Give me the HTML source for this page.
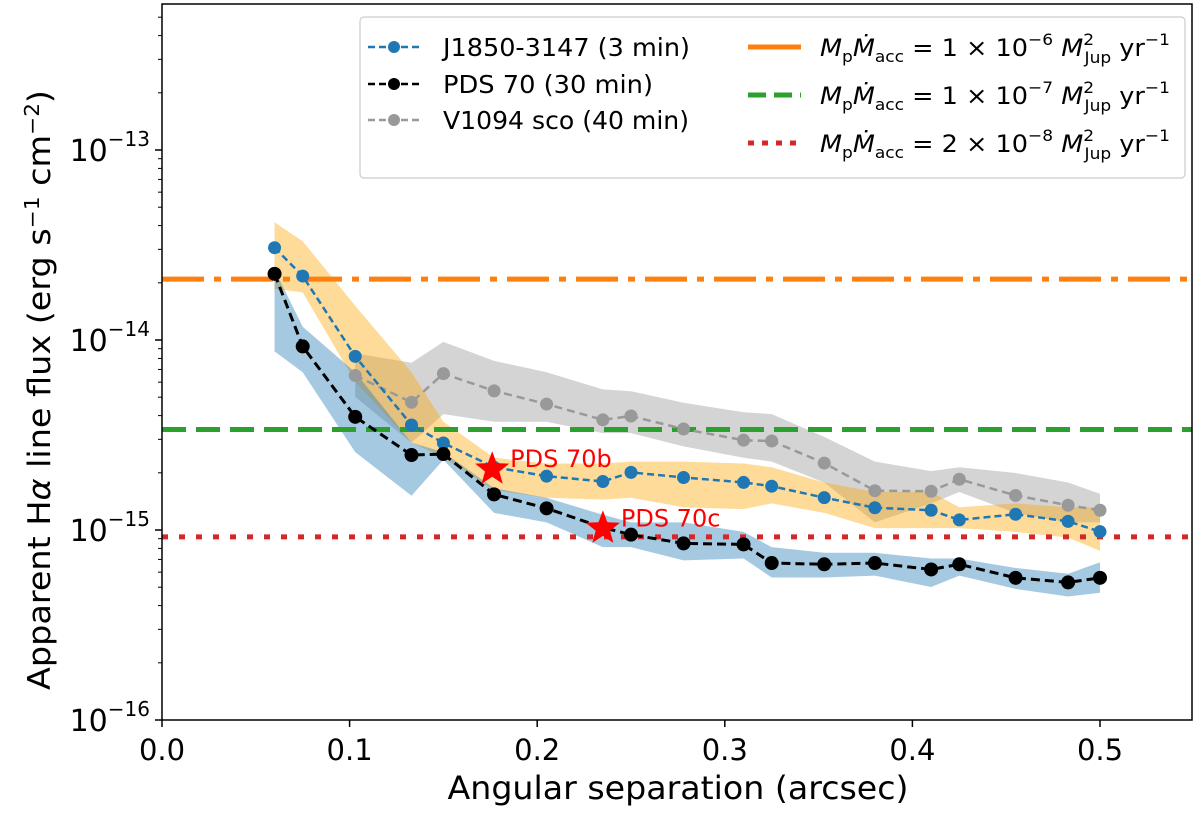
<!DOCTYPE html>
<html><head><meta charset="utf-8"><style>
html,body{margin:0;padding:0;background:#fff;}
svg{display:block;font-family:"DejaVu Sans","Liberation Sans",sans-serif;}
</style></head><body>
<svg id="chart" width="1200" height="814" viewBox="0 0 1200 814" xmlns="http://www.w3.org/2000/svg">
<g id="bands"></g>
<g id="hlines"></g>
<g id="series"></g>
<g id="axes"></g>
<g id="legend"></g>
</svg>
<script>
// ---- data ----
const xJ = [0.06,0.075,0.103,0.133,0.15,0.177,0.205,0.235,0.25,0.278,0.31,0.325,0.353,0.38,0.41,0.425,0.455,0.483,0.5];
const fluxJ = [3.06e-14,2.17e-14,8.2e-15,3.57e-15,2.87e-15,2.14e-15,1.92e-15,1.80e-15,2.01e-15,1.89e-15,1.78e-15,1.70e-15,1.48e-15,1.31e-15,1.27e-15,1.13e-15,1.21e-15,1.11e-15,9.8e-16];
const fluxP = [2.23e-14,9.25e-15,3.94e-15,2.48e-15,2.51e-15,1.54e-15,1.30e-15,1.03e-15,9.45e-16,8.5e-16,8.4e-16,6.7e-16,6.6e-16,6.7e-16,6.2e-16,6.6e-16,5.6e-16,5.3e-16,5.6e-16];
const xV = [0.103,0.133,0.15,0.177,0.205,0.235,0.25,0.278,0.31,0.325,0.353,0.38,0.41,0.425,0.455,0.483,0.5];
const fluxV = [6.5e-15,4.7e-15,6.65e-15,5.4e-15,4.6e-15,3.8e-15,3.98e-15,3.4e-15,2.97e-15,2.94e-15,2.25e-15,1.61e-15,1.6e-15,1.85e-15,1.52e-15,1.35e-15,1.27e-15];
const logJHi = [-13.38,-13.48,-13.82,-14.17,-14.43,-14.62,-14.65,-14.65,-14.64,-14.64,-14.65,-14.67,-14.75,-14.80,-14.80,-14.88,-14.86,-14.88,-14.88];
const logJLo = [-13.73,-13.75,-14.22,-14.54,-14.62,-14.79,-14.83,-14.84,-14.83,-14.88,-14.89,-14.86,-14.91,-14.99,-14.99,-14.99,-15.01,-15.04,-15.11];
const logPHi = [-13.63,-13.93,-14.17,-14.54,-14.59,-14.78,-14.83,-14.92,-14.96,-14.96,-15.01,-15.09,-15.12,-15.12,-15.15,-15.15,-15.20,-15.23,-15.17];
const logPLo = [-14.06,-14.17,-14.59,-14.82,-14.63,-14.91,-14.96,-15.09,-15.09,-15.16,-15.15,-15.25,-15.25,-15.24,-15.30,-15.24,-15.31,-15.35,-15.33];
const logVHi = [-14.07,-14.12,-14.01,-14.11,-14.17,-14.26,-14.27,-14.33,-14.38,-14.39,-14.51,-14.64,-14.69,-14.67,-14.70,-14.75,-14.81];
const logVLo = [-14.30,-14.54,-14.39,-14.43,-14.43,-14.49,-14.49,-14.56,-14.62,-14.64,-14.75,-14.96,-14.86,-14.80,-14.91,-14.96,-14.96];
const hlineFlux = [2.09e-14,3.38e-15,9.2e-16];
const planetNames = ["PDS 70b","PDS 70c"];
const planetX = [0.176,0.235];
const planetFlux = [2.09e-15,1.02e-15];
const xTicks = [0.0,0.1,0.2,0.3,0.4,0.5];
const yTickExps = [-16,-15,-14,-13];

// ---- axes ----
const L=162,R=1192,T=4,B=720;
const px = x => L + x*1876;
const py = v => B - (Math.log10(v)+16)*190;
const pyl = l => B - (l+16)*190;
const NS="http://www.w3.org/2000/svg";
function mk(tag, attrs, parent){const e=document.createElementNS(NS,tag);for(const k in attrs)e.setAttribute(k,attrs[k]);parent.appendChild(e);return e;}
const gB=document.getElementById('bands'),gH=document.getElementById('hlines'),gS=document.getElementById('series'),gA=document.getElementById('axes'),gL=document.getElementById('legend');

function band(xs,hi,lo,fill,op,name){
  let pts=xs.map((x,i)=>px(x)+','+pyl(hi[i]));
  for(let i=xs.length-1;i>=0;i--)pts.push(px(xs[i])+','+pyl(lo[i]));
  const p=mk('polygon',{points:pts.join(' '),fill:fill,'fill-opacity':op},gB);
  
  
}
band(xV,logVHi,logVLo,'#aaaaaa',0.5,'v1094-band');
band(xJ,logJHi,logJLo,'#ffa500',0.4,'j1850-band');
band(xJ,logPHi,logPLo,'#1f77b4',0.4,'pds70-band');

const hStyles=[['#ff7f0e','42,10,7,10'],['#2ca02c','24,10'],['#d62728','6,11']];
const hNames=['line-1e-6','line-1e-7','line-2e-8'];
hlineFlux.forEach((v,i)=>{
  const l=mk('line',{x1:L,x2:R,y1:py(v),y2:py(v),stroke:hStyles[i][0],'stroke-width':5,'stroke-dasharray':hStyles[i][1]},gH);
  
  
});

function series(xs,ys,col,w,dash,r,name){
  const g=mk('g',{},gS);
  
  
  mk('polyline',{points:xs.map((x,i)=>px(x)+','+py(ys[i])).join(' '),fill:'none',stroke:col,'stroke-width':w,'stroke-dasharray':dash},g);
  xs.forEach((x,i)=>{
    const c=mk('circle',{cx:px(x),cy:py(ys[i]),r:r,fill:col},g);
    
    
  });
}
series(xV,fluxV,'#999999',2.5,'8,5',6.5,'v1094-series');
series(xJ,fluxJ,'#1f77b4',2.5,'7,4',6.5,'j1850-series');
series(xJ,fluxP,'#000000',3,'9,5',7,'pds70-series');

function starPts(cx,cy,R1,r1){let p=[];for(let i=0;i<10;i++){const a=-Math.PI/2+i*Math.PI/5;const rr=i%2?r1:R1;p.push((cx+rr*Math.cos(a)).toFixed(1)+','+(cy+rr*Math.sin(a)).toFixed(1));}return p.join(' ');}
planetNames.forEach((n,i)=>{
  const cx=px(planetX[i]),cy=py(planetFlux[i]);
  const s=mk('polygon',{points:starPts(cx,cy,18,7.5),fill:'#ff0000'},gS);
  
  
  const t=mk('text',{x:cx+18,y:cy-2,fill:'#ff0000','font-size':24},gS);
  t.textContent=n;
  
  
});

// frame
const fr=mk('rect',{x:L,y:T,width:R-L,height:B-T,fill:'none',stroke:'#000','stroke-width':1.5},gA);


xTicks.forEach(t=>{
  mk('line',{x1:px(t),x2:px(t),y1:B,y2:B+7,stroke:'#000','stroke-width':1.5},gA);
  const tx=mk('text',{x:px(t),y:B+40,'text-anchor':'middle','font-size':29},gA);
  tx.textContent=t.toFixed(1);
  
  
});
yTickExps.forEach(e=>{
  const y=pyl(e);
  mk('line',{x1:L-7,x2:L,y1:y,y2:y,stroke:'#000','stroke-width':1.5},gA);
  const tx=mk('text',{x:L-12,y:y+11,'text-anchor':'end','font-size':30},gA);
  tx.innerHTML='10<tspan dy="-15" font-size="20">−'+(-e)+'</tspan>';
  
  
  for(let m=2;m<10;m++){const ym=pyl(e+Math.log10(m));if(ym>T)mk('line',{x1:L-4,x2:L,y1:ym,y2:ym,stroke:'#000','stroke-width':1},gA);}
});
const xl=mk('text',{x:678,y:799,'text-anchor':'middle','font-size':32,'textLength':461,'lengthAdjust':'spacingAndGlyphs'},gA);
xl.textContent='Angular separation (arcsec)';


const yl=mk('text',{x:0,y:0,transform:'translate(50,390) rotate(-90)','text-anchor':'middle','font-size':31,'textLength':600,'lengthAdjust':'spacingAndGlyphs'},gA);
yl.innerHTML='Apparent H<tspan font-style="italic">α</tspan> line flux (erg s<tspan dy="-11" font-size="20">−1</tspan><tspan dy="11"> cm</tspan><tspan dy="-11" font-size="20">−2</tspan><tspan dy="11">)</tspan>';



// legend
const lb=mk('rect',{x:360,y:17,width:825,height:161,rx:4,fill:'#fff','fill-opacity':0.85,stroke:'#ccc','stroke-width':1.2},gL);


const leftItems=[['J1850-3147 (3 min)','#1f77b4',247],['PDS 70 (30 min)','#000000',210],['V1094 sco (40 min)','#999999',246]];
const leftY=[47,84,120];
leftItems.forEach((it,i)=>{
  const g=mk('g',{},gL);
  
  
  mk('line',{x1:368,x2:420,y1:leftY[i],y2:leftY[i],stroke:it[1],'stroke-width':2.5,'stroke-dasharray':'7,4'},g);
  mk('circle',{cx:394,cy:leftY[i],r:6,fill:it[1]},g);
  const t=mk('text',{x:443,y:leftY[i]+9,'font-size':25,'textLength':it[2],'lengthAdjust':'spacingAndGlyphs'},g);t.textContent=it[0];
});
const rightY=[47,95,143];
const rightVals=[['1','−6'],['1','−7'],['2','−8']];
rightVals.forEach((v,i)=>{
  const g=mk('g',{},gL);
  
  
  mk('line',{x1:748,x2:801,y1:rightY[i],y2:rightY[i],stroke:hStyles[i][0],'stroke-width':5,'stroke-dasharray':i==0?'none':(i==1?'18,8':'6,8')},g);
  const t=mk('text',{x:820,y:rightY[i]+9,'font-size':24,'textLength':350,'lengthAdjust':'spacingAndGlyphs'},g);
  t.innerHTML='<tspan font-style="italic">M</tspan><tspan dy="6" font-size="16">p</tspan><tspan dy="-6" font-style="italic">Ṁ</tspan><tspan dy="6" font-size="16">acc</tspan><tspan dy="-6"> = '+v[0]+' × 10</tspan><tspan dy="-11" font-size="16">'+v[1]+'</tspan><tspan dy="11" font-style="italic"> M</tspan><tspan dy="-11" font-size="16">2</tspan><tspan dx="-9" dy="18" font-size="16">Jup</tspan><tspan dy="-7"> yr</tspan><tspan dy="-11" font-size="16">−1</tspan>';
});
</script>
</body></html>
